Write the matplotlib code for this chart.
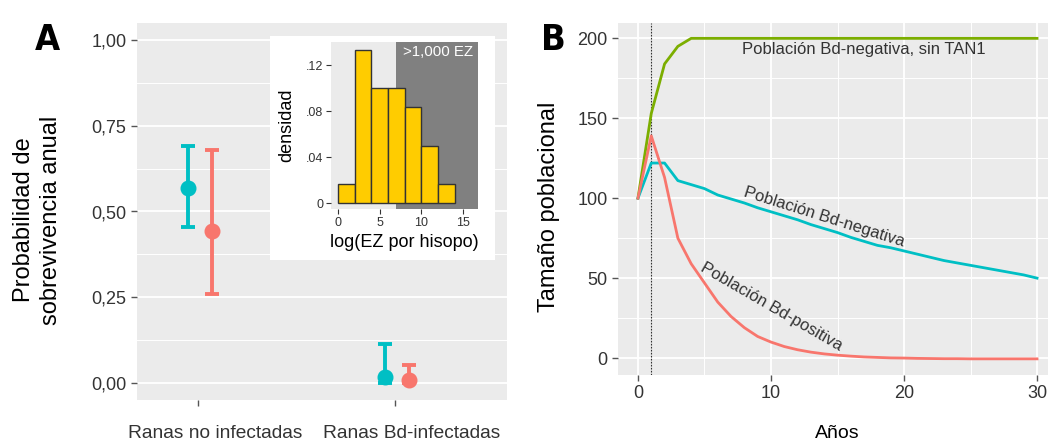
import matplotlib
matplotlib.use("Agg")
import matplotlib.pyplot as plt
from matplotlib.patches import Rectangle
from matplotlib.transforms import ScaledTranslation, blended_transform_factory
import numpy as np

plt.rcParams['font.family'] = ['Liberation Sans', 'DejaVu Sans']

# ---------------- Data: panel A ----------------
categories = ["Ranas no infectadas", "Ranas Bd-infectadas"]
teal_est = [0.568, 0.018]
teal_lo = [0.455, 0.0]
teal_hi = [0.691, 0.112]
red_est = [0.442, 0.009]
red_lo = [0.260, 0.0]
red_hi = [0.680, 0.053]
y_ticks_A = [0.0, 0.25, 0.5, 0.75, 1.0]
y_ticklabels_A = ["0,00", "0,25", "0,50", "0,75", "1,00"]

# inset histogram
hist_edges = [0, 2, 4, 6, 8, 10, 12, 14]
hist_density = [1/60, 8/60, 6/60, 6/60, 5/60, 3/60, 1/60]
inset_threshold = 7.0
inset_xticks = [0, 5, 10, 15]
inset_yticks = [0, 0.04, 0.08, 0.12]
inset_yticklabels = ["0", ".04", ".08", ".12"]

# ---------------- Data: panel B ----------------
years = list(range(0, 31))
green_pop = [100, 153, 184, 195, 200] + [200] * 26
teal_pop = [100, 122, 122, 111, 108.5, 106, 102, 99.5, 97, 94, 91.5, 89, 86.5, 83.5,
            81, 78.5, 75.5, 73, 70.5, 69, 67, 65, 63, 61, 59.5, 58, 56.5, 55, 53.5, 52, 50]
red_pop = [100, 139, 113, 75, 59, 47, 35, 26, 19, 13.5, 10, 7.2, 5.2, 3.7, 2.6, 1.8,
           1.2, 0.7, 0.4, 0.1, 0, -0.2, -0.3, -0.4, -0.4, -0.5, -0.5, -0.5, -0.5, -0.5, -0.5]
x_ticks_B = [0, 10, 20, 30]
y_ticks_B = [0, 50, 100, 150, 200]

TEAL = "#00BFC4"
RED = "#F8766D"
GREEN = "#7CAE00"
BG = "#EBEBEB"

W, H = 1048, 440
fig = plt.figure(figsize=(W / 100, H / 100), dpi=100)

# ---------------- Panel A ----------------
axA = fig.add_axes([137/W, 1-400/H, 370/W, 377/H])
axA.set_facecolor(BG)
for s in axA.spines.values():
    s.set_visible(False)
axA.set_xlim(0.69, 2.57)
axA.set_ylim(-0.05, 1.05)
for y in [0.125, 0.375, 0.625, 0.875]:
    axA.axhline(y, color="white", lw=0.7, zorder=0)
for y in y_ticks_A:
    axA.axhline(y, color="white", lw=1.3, zorder=0)

xpos = np.arange(1, len(categories) + 1)
off_t, off_r = -0.05, 0.072
for est, lo, hi, off, col in [(teal_est, teal_lo, teal_hi, off_t, TEAL),
                              (red_est, red_lo, red_hi, off_r, RED)]:
    for i in range(len(categories)):
        axA.errorbar(xpos[i] + off, est[i],
                     yerr=[[est[i] - lo[i]], [hi[i] - est[i]]],
                     fmt="o", color=col, ms=10.5, elinewidth=2.8, capsize=5.2,
                     capthick=2.8, zorder=3)

axA.set_yticks(y_ticks_A)
axA.set_yticklabels(y_ticklabels_A, fontsize=13, color="#333333")
axA.set_xticks(xpos)
axA.set_xticklabels([""] * len(categories))
axA.tick_params(axis="both", length=4, width=1, color="#555555")
lab_tr = blended_transform_factory(axA.transData, axA.transAxes) + \
    ScaledTranslation(17/100, 0, fig.dpi_scale_trans)
for xp, cat in zip(xpos, categories):
    axA.text(xp, -0.066, cat, transform=lab_tr, fontsize=13.8, color="#333333",
             ha="center", va="top", clip_on=False)
fig.text(37.5/W, 1-220/H, "Probabilidad de\nsobrevivencia anual", fontsize=17,
         rotation=90, ha="center", va="center", linespacing=1.25)
fig.text(47/W, 1-40/H, "A", fontsize=26, fontweight="bold", ha="center",
         va="center", family=["Liberation Sans Narrow", "DejaVu Sans"],
         fontstretch="condensed")

# inset white box
fig.patches.append(Rectangle((270/W, 1-260/H), 225/W, 224/H,
                             transform=fig.transFigure, facecolor="white",
                             edgecolor="none", zorder=2))
axI = fig.add_axes([331/W, 1-209/H, 147/W, 167/H])
axI.set_zorder(5)
axI.set_facecolor(BG)
for s in axI.spines.values():
    s.set_visible(False)
axI.set_xlim(-0.84, 16.8)
axI.set_ylim(-0.005, 0.14)
axI.axvspan(inset_threshold, 16.8, color="#808080", lw=0, zorder=0)
axI.bar(hist_edges[:-1], hist_density, width=np.diff(hist_edges), align="edge",
        color="#FFCC00", edgecolor="#333333", lw=1.0, zorder=2)
axI.text(16.2, 0.137, ">1,000 EZ", color="white", fontsize=10.8, ha="right", va="top")
axI.set_xticks(inset_xticks)
axI.set_xticklabels([str(v) for v in inset_xticks], fontsize=9, color="#333333")
axI.set_yticks(inset_yticks)
axI.set_yticklabels(inset_yticklabels, fontsize=9, color="#333333")
axI.tick_params(axis="both", length=3.5, width=0.8, color="#333333", pad=2)
axI.set_xlabel("log(EZ por hisopo)", fontsize=13, labelpad=4)
axI.set_ylabel("densidad", fontsize=13, labelpad=8)

# ---------------- Panel B ----------------
axB = fig.add_axes([618/W, 1-375/H, 439/W, 352/H])
axB.set_facecolor(BG)
for s in axB.spines.values():
    s.set_visible(False)
axB.set_xlim(-1.5, 31.5)
axB.set_ylim(-10.6, 209.6)
for x in [5, 15, 25]:
    axB.axvline(x, color="white", lw=0.7, zorder=0)
for y in [25, 75, 125, 175]:
    axB.axhline(y, color="white", lw=0.7, zorder=0)
for x in x_ticks_B:
    axB.axvline(x, color="white", lw=1.3, zorder=0)
for y in y_ticks_B:
    axB.axhline(y, color="white", lw=1.3, zorder=0)

axB.axvline(1, color="#333333", lw=0.8, ls=(0, (1.5, 1.2)), zorder=1)
axB.plot(years, green_pop, color=GREEN, lw=2.0, zorder=3)
axB.plot(years, teal_pop, color=TEAL, lw=2.0, zorder=3)
axB.plot(years, red_pop, color=RED, lw=2.0, zorder=3)

axB.text(17.0, 197.5, "Población Bd-negativa, sin TAN1", fontsize=12, color="#333333",
         ha="center", va="top")
axB.text(14.0, 88, "Población Bd-negativa", fontsize=12, color="#333333",
         ha="center", va="center", rotation=-17.5, rotation_mode="anchor")
axB.text(10.0, 32, "Población Bd-positiva", fontsize=12, color="#333333",
         ha="center", va="center", rotation=-30, rotation_mode="anchor")

axB.set_xticks(x_ticks_B)
axB.set_xticklabels([str(v) for v in x_ticks_B], fontsize=13, color="#333333")
axB.set_yticks(y_ticks_B)
axB.set_yticklabels([str(v) for v in y_ticks_B], fontsize=13, color="#333333")
axB.tick_params(axis="both", length=4, width=1, color="#555555")
axB.set_xlabel("Años", fontsize=14, labelpad=16)
fig.text(549/W, 1-207/H, "Tamaño poblacional", fontsize=17, rotation=90,
         ha="center", va="center")
fig.text(553/W, 1-40/H, "B", fontsize=26, fontweight="bold", ha="center",
         va="center", family=["Liberation Sans Narrow", "DejaVu Sans"],
         fontstretch="condensed")

fig.savefig("out.png", dpi=100)
